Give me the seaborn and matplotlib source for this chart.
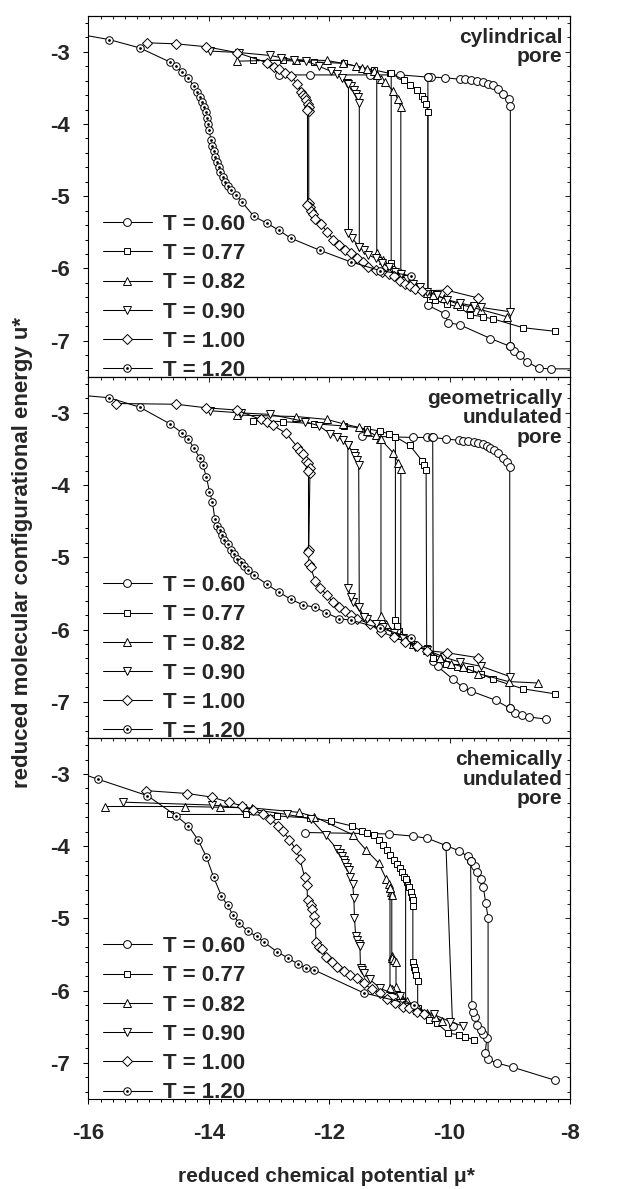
import matplotlib

matplotlib.use('Agg')
import matplotlib.pyplot as plt
from matplotlib.lines import Line2D
from matplotlib.ticker import MultipleLocator
import pandas as pd
import seaborn as sns

# --- data: (mu*, u*) pairs, one list per branch ---
# cylindrical pore
cyl_060_ads = [(-12.84, -3.32), (-12.32, -3.32), (-11.32, -3.32), (-10.82, -3.32), (-10.36, -3.35), (-10.31, -3.35),
               (-10.07, -3.36), (-9.83, -3.38), (-9.74, -3.38), (-9.65, -3.39), (-9.55, -3.40), (-9.45, -3.42),
               (-9.36, -3.44), (-9.27, -3.46), (-9.19, -3.51), (-9.11, -3.58), (-9.02, -3.66), (-8.99, -3.75),
               (-8.99, -7.08), (-8.93, -7.14), (-8.83, -7.20), (-8.72, -7.29), (-8.52, -7.38), (-8.32, -7.39),
               (-7.90, -7.39)]
cyl_060_des = [(-8.99, -7.08), (-9.32, -6.97), (-9.83, -6.78), (-10.03, -6.75), (-10.07, -6.63), (-10.36, -6.51),
               (-10.36, -3.35)]
cyl_077_ads = [(-13.26, -3.12), (-12.77, -3.12), (-12.26, -3.14), (-11.76, -3.16), (-11.26, -3.25), (-10.99, -3.30),
               (-10.75, -3.39), (-10.65, -3.46), (-10.54, -3.53), (-10.46, -3.61), (-10.43, -3.66), (-10.39, -3.72),
               (-10.36, -3.83), (-10.36, -6.34), (-10.33, -6.42), (-10.24, -6.44), (-10.05, -6.49), (-9.83, -6.54),
               (-9.66, -6.64), (-9.44, -6.67), (-9.27, -6.70), (-8.78, -6.82), (-8.25, -6.87)]
cyl_077_des = [(-10.60, -6.21), (-10.80, -6.07), (-10.97, -5.92), (-10.97, -3.30)]
cyl_082_ads = [(-13.54, -3.13), (-12.55, -3.11), (-12.04, -3.12), (-11.77, -3.16), (-11.55, -3.20), (-11.46, -3.22),
               (-11.37, -3.24), (-11.26, -3.26), (-11.21, -3.32), (-11.14, -3.37), (-11.07, -3.42), (-10.94, -3.54),
               (-10.86, -3.65), (-10.81, -3.77), (-10.81, -6.06), (-10.60, -6.21), (-10.38, -6.34), (-10.27, -6.37),
               (-10.10, -6.41), (-9.88, -6.49), (-9.66, -6.53), (-9.48, -6.57), (-9.04, -6.67)]
cyl_082_des = [(-10.99, -5.98), (-11.10, -5.88), (-11.21, -5.79), (-11.21, -3.32)]
cyl_090_ads = [(-13.98, -2.99), (-13.50, -3.01), (-12.99, -3.05), (-12.80, -3.08), (-12.59, -3.11), (-12.38, -3.13),
               (-12.17, -3.20), (-11.97, -3.27), (-11.87, -3.31), (-11.79, -3.36), (-11.70, -3.43), (-11.64, -3.48),
               (-11.59, -3.53), (-11.55, -3.58), (-11.52, -3.63), (-11.50, -3.71), (-11.50, -5.70), (-11.43, -5.75),
               (-11.35, -5.81), (-11.23, -5.86), (-11.12, -5.93), (-11.01, -5.98), (-10.90, -6.05), (-10.81, -6.08),
               (-10.71, -6.14), (-10.60, -6.21), (-10.49, -6.26), (-10.38, -6.32), (-10.21, -6.37), (-10.05, -6.43),
               (-9.83, -6.48), (-9.60, -6.52), (-9.47, -6.54), (-8.99, -6.60)]
cyl_090_des = [(-11.50, -5.70), (-11.62, -5.58), (-11.68, -5.51), (-11.68, -3.45)]
cyl_100_ads = [(-15.03, -2.875), (-14.54, -2.89), (-14.04, -2.93), (-13.54, -3.01), (-13.03, -3.15), (-12.92, -3.21),
               (-12.83, -3.24), (-12.74, -3.29), (-12.64, -3.34), (-12.53, -3.44), (-12.47, -3.55), (-12.43, -3.60),
               (-12.41, -3.63), (-12.38, -3.67), (-12.36, -3.72), (-12.34, -3.76), (-12.34, -3.82), (-12.34, -5.10),
               (-12.32, -5.15), (-12.30, -5.20), (-12.27, -5.25), (-12.23, -5.31), (-12.13, -5.39), (-12.04, -5.49),
               (-11.93, -5.60), (-11.83, -5.68), (-11.73, -5.74), (-11.64, -5.79), (-11.54, -5.86), (-11.44, -5.91),
               (-11.35, -5.98), (-11.23, -6.02), (-11.12, -6.05), (-11.01, -6.08), (-10.93, -6.11), (-10.83, -6.18),
               (-10.74, -6.21), (-10.65, -6.24), (-10.57, -6.28), (-10.46, -6.31), (-10.05, -6.30), (-9.52, -6.41)]
cyl_100_des = [(-12.37, -5.12), (-12.37, -3.80)]
cyl_120 = [(-16.20, -2.75), (-15.66, -2.83), (-15.15, -2.945), (-14.65, -3.14), (-14.55, -3.20), (-14.44, -3.28),
           (-14.34, -3.36), (-14.25, -3.48), (-14.19, -3.55), (-14.15, -3.62), (-14.11, -3.69), (-14.08, -3.76),
           (-14.05, -3.84), (-14.03, -3.92), (-14.01, -4.00), (-13.99, -4.08), (-13.97, -4.22), (-13.94, -4.30),
           (-13.92, -4.38), (-13.89, -4.45), (-13.86, -4.53), (-13.83, -4.59), (-13.81, -4.66), (-13.77, -4.73),
           (-13.73, -4.80), (-13.68, -4.86), (-13.64, -4.92), (-13.55, -4.98), (-13.45, -5.08), (-13.25, -5.28),
           (-13.04, -5.37), (-12.84, -5.47), (-12.64, -5.58), (-12.15, -5.75), (-11.64, -5.91), (-11.15, -6.03),
           (-10.64, -6.10)]

# geometrically undulated pore
geo_060_ads = [(-11.46, -3.32), (-10.61, -3.34), (-10.38, -3.34), (-10.30, -3.34), (-10.06, -3.36), (-9.85, -3.38),
               (-9.77, -3.39), (-9.69, -3.39), (-9.60, -3.40), (-9.52, -3.42), (-9.45, -3.43), (-9.38, -3.46),
               (-9.32, -3.48), (-9.26, -3.51), (-9.19, -3.55), (-9.12, -3.62), (-9.05, -3.68), (-9.00, -3.75),
               (-9.00, -7.09), (-8.91, -7.16), (-8.80, -7.18), (-8.68, -7.21), (-8.40, -7.24)]
geo_060_des = [(-9.00, -7.09), (-9.23, -6.98), (-9.65, -6.85), (-9.78, -6.80), (-9.94, -6.69), (-10.20, -6.51),
               (-10.27, -6.43), (-10.28, -3.34)]
geo_077_ads = [(-13.26, -3.11), (-12.77, -3.12), (-12.26, -3.15), (-11.76, -3.18), (-11.38, -3.22), (-11.16, -3.25),
               (-11.01, -3.29), (-10.90, -3.33), (-10.66, -3.45), (-10.46, -3.66), (-10.42, -3.72), (-10.39, -3.79),
               (-10.38, -6.26), (-10.28, -6.40), (-10.06, -6.47), (-9.87, -6.52), (-9.66, -6.55), (-9.47, -6.62),
               (-9.27, -6.69), (-8.78, -6.82), (-8.25, -6.89)]
geo_077_des = [(-10.60, -6.20), (-10.84, -6.02), (-10.87, -5.95), (-10.90, -5.87), (-10.90, -3.33)]
geo_082_ads = [(-13.54, -3.03), (-12.55, -3.05), (-12.04, -3.09), (-11.77, -3.15), (-11.51, -3.20), (-11.37, -3.25),
               (-11.23, -3.31), (-11.15, -3.36), (-10.94, -3.55), (-10.85, -3.69), (-10.81, -3.78), (-10.81, -6.08),
               (-10.60, -6.20), (-10.38, -6.28), (-10.16, -6.39), (-9.97, -6.47), (-9.77, -6.52), (-9.52, -6.61),
               (-9.02, -6.72), (-8.53, -6.74)]
geo_082_des = [(-10.93, -6.02), (-11.05, -5.92), (-11.14, -5.81), (-11.14, -3.36)]
geo_090_ads = [(-13.98, -2.97), (-13.47, -3.00), (-12.99, -3.02), (-12.40, -3.12), (-12.17, -3.18), (-11.98, -3.29),
               (-11.87, -3.33), (-11.77, -3.38), (-11.69, -3.45), (-11.59, -3.56), (-11.57, -3.60), (-11.54, -3.65),
               (-11.51, -3.72), (-11.50, -5.69), (-11.43, -5.82), (-11.37, -5.86), (-11.23, -5.92), (-11.10, -5.96),
               (-10.93, -6.05), (-10.77, -6.12), (-10.57, -6.24), (-10.38, -6.28), (-10.10, -6.38), (-9.83, -6.45),
               (-9.47, -6.51), (-9.00, -6.65)]
geo_090_des = [(-11.43, -5.82), (-11.60, -5.62), (-11.64, -5.55), (-11.69, -5.43), (-11.69, -3.45)]
geo_100_ads = [(-15.55, -2.87), (-14.54, -2.88), (-14.04, -2.93), (-13.54, -2.96), (-13.14, -3.09), (-13.03, -3.12),
               (-12.94, -3.17), (-12.72, -3.28), (-12.53, -3.47), (-12.48, -3.53), (-12.43, -3.57), (-12.38, -3.66),
               (-12.36, -3.70), (-12.32, -3.76), (-12.32, -3.83), (-12.34, -4.90), (-12.34, -5.09), (-12.31, -5.14),
               (-12.23, -5.33), (-12.15, -5.43), (-12.04, -5.52), (-11.94, -5.62), (-11.83, -5.69), (-11.73, -5.74),
               (-11.64, -5.80), (-11.54, -5.85), (-11.33, -5.92), (-11.14, -6.03), (-10.93, -6.10), (-10.74, -6.17),
               (-10.54, -6.23), (-10.38, -6.29), (-10.05, -6.32), (-9.52, -6.39)]
geo_100_des = [(-12.35, -4.92), (-12.35, -3.80)]
geo_120 = [(-16.20, -2.75), (-15.66, -2.79), (-15.15, -2.92), (-14.65, -3.15), (-14.44, -3.28), (-14.34, -3.36),
           (-14.25, -3.49), (-14.15, -3.62), (-14.10, -3.72), (-14.04, -3.89), (-13.99, -4.09), (-13.94, -4.24),
           (-13.90, -4.47), (-13.86, -4.56), (-13.82, -4.62), (-13.78, -4.69), (-13.74, -4.76), (-13.69, -4.82),
           (-13.64, -4.90), (-13.58, -4.96), (-13.53, -5.02), (-13.47, -5.06), (-13.41, -5.12), (-13.35, -5.17),
           (-13.25, -5.25), (-13.04, -5.37), (-12.84, -5.48), (-12.64, -5.58), (-12.43, -5.66), (-12.24, -5.69),
           (-12.05, -5.77), (-11.83, -5.85), (-11.64, -5.87), (-11.15, -5.98), (-10.64, -6.11)]

# chemically undulated pore
chem_060_ads = [(-12.41, -3.81), (-11.01, -3.83), (-10.61, -3.86), (-10.37, -3.89), (-10.06, -3.99), (-9.85, -4.06),
                (-9.70, -4.14), (-9.65, -4.20), (-9.58, -4.28), (-9.54, -4.36), (-9.48, -4.46), (-9.44, -4.56),
                (-9.40, -4.78), (-9.36, -4.99), (-9.36, -6.95), (-9.22, -7.00), (-8.95, -7.06), (-8.25, -7.24)]
chem_060_des = [(-9.41, -6.87), (-9.38, -6.66), (-9.44, -6.60), (-9.48, -6.54), (-9.54, -6.47), (-9.58, -6.36),
                (-9.61, -6.30), (-9.63, -6.20), (-9.65, -4.20)]
chem_060_des2 = [(-9.95, -6.49), (-10.06, -3.99)]
chem_077_ads = [(-14.65, -3.56), (-13.38, -3.56), (-12.87, -3.58), (-12.32, -3.61), (-11.97, -3.65), (-11.62, -3.72),
                (-11.46, -3.79), (-11.37, -3.82), (-11.26, -3.85), (-11.18, -3.91), (-11.11, -3.98), (-11.04, -4.05),
                (-10.99, -4.12), (-10.93, -4.19), (-10.88, -4.24), (-10.83, -4.30), (-10.79, -4.36), (-10.75, -4.42),
                (-10.71, -4.49), (-10.67, -4.56), (-10.64, -4.63), (-10.63, -4.70), (-10.61, -4.75), (-10.61, -4.83),
                (-10.61, -5.60), (-10.59, -5.67), (-10.57, -5.72), (-10.55, -5.78), (-10.53, -5.86), (-10.53, -6.24),
                (-10.35, -6.40), (-10.21, -6.45), (-10.02, -6.59), (-9.85, -6.61), (-9.74, -6.64), (-9.60, -6.68)]
chem_077_des = [(-10.35, -6.40), (-10.55, -6.28), (-10.73, -6.19), (-10.73, -4.46)]
chem_082_ads = [(-15.72, -3.45), (-14.40, -3.45), (-13.82, -3.46), (-13.28, -3.47), (-12.51, -3.53), (-12.25, -3.59),
                (-11.61, -3.84), (-11.39, -4.05), (-11.18, -4.23), (-11.05, -4.46), (-11.01, -4.52), (-10.99, -4.58),
                (-10.97, -4.63), (-10.96, -4.67), (-10.96, -5.52), (-10.95, -5.55), (-10.93, -5.57), (-10.89, -5.61),
                (-10.89, -5.95), (-10.82, -6.06), (-10.70, -6.14), (-10.52, -6.24), (-10.38, -6.31), (-10.24, -6.36),
                (-10.12, -6.42)]
chem_082_des = [(-10.82, -6.06), (-10.95, -5.98), (-10.99, -5.96), (-10.99, -4.58)]
chem_090 = [(-15.42, -3.39), (-13.94, -3.43), (-13.45, -3.47), (-12.70, -3.56), (-12.31, -3.62), (-12.06, -3.85),
            (-11.87, -4.04), (-11.82, -4.09), (-11.78, -4.14), (-11.76, -4.19), (-11.73, -4.23), (-11.70, -4.29),
            (-11.67, -4.33), (-11.65, -4.42), (-11.61, -4.53), (-11.59, -4.72), (-11.58, -5.00), (-11.56, -5.24),
            (-11.53, -5.30), (-11.51, -5.35), (-11.49, -5.38), (-11.48, -5.69), (-11.46, -5.72), (-11.43, -5.76),
            (-11.33, -5.84), (-11.15, -5.97), (-10.82, -6.08), (-10.60, -6.22), (-10.26, -6.33), (-9.99, -6.43),
            (-9.78, -6.49)]
chem_100 = [(-15.05, -3.23), (-14.36, -3.27), (-13.95, -3.32), (-13.67, -3.39), (-13.45, -3.44), (-13.26, -3.50),
            (-13.10, -3.56), (-12.98, -3.62), (-12.85, -3.72), (-12.77, -3.79), (-12.66, -3.91), (-12.56, -4.04),
            (-12.49, -4.17), (-12.41, -4.42), (-12.37, -4.54), (-12.36, -4.74), (-12.31, -4.81), (-12.29, -4.87),
            (-12.26, -4.97), (-12.23, -5.06), (-12.22, -5.32), (-12.17, -5.39), (-12.12, -5.43), (-12.05, -5.53),
            (-11.95, -5.60), (-11.87, -5.67), (-11.76, -5.73), (-11.65, -5.78), (-11.54, -5.83), (-11.43, -5.90),
            (-11.29, -5.98), (-11.15, -6.03), (-11.04, -6.12), (-10.90, -6.17), (-10.77, -6.22), (-10.68, -6.24),
            (-10.54, -6.29), (-10.43, -6.32)]
chem_120 = [(-16.20, -2.97), (-15.85, -3.07), (-15.02, -3.30), (-14.54, -3.58), (-14.34, -3.72), (-14.18, -3.91),
            (-14.04, -4.15), (-13.92, -4.43), (-13.79, -4.69), (-13.69, -4.82), (-13.60, -4.95), (-13.50, -5.06),
            (-13.35, -5.18), (-13.20, -5.25), (-13.08, -5.33), (-12.87, -5.46), (-12.68, -5.55), (-12.52, -5.63),
            (-12.38, -5.69), (-12.26, -5.71), (-11.43, -6.03), (-10.59, -6.20)]

temps = ['T = 0.60', 'T = 0.77', 'T = 0.82', 'T = 0.90', 'T = 1.00', 'T = 1.20']
panel_labels = ['cylindrical\npore', 'geometrically\nundulated\npore', 'chemically\nundulated\npore']
x_label = 'reduced chemical potential \u03bc*'
y_label = 'reduced molecular configurational energy u*'

series = [
    (0, 'T = 0.60', 'ads', cyl_060_ads), (0, 'T = 0.60', 'des', cyl_060_des),
    (0, 'T = 0.77', 'ads', cyl_077_ads), (0, 'T = 0.77', 'des', cyl_077_des),
    (0, 'T = 0.82', 'ads', cyl_082_ads), (0, 'T = 0.82', 'des', cyl_082_des),
    (0, 'T = 0.90', 'ads', cyl_090_ads), (0, 'T = 0.90', 'des', cyl_090_des),
    (0, 'T = 1.00', 'ads', cyl_100_ads), (0, 'T = 1.00', 'des', cyl_100_des),
    (0, 'T = 1.20', 'ads', cyl_120),
    (1, 'T = 0.60', 'ads', geo_060_ads), (1, 'T = 0.60', 'des', geo_060_des),
    (1, 'T = 0.77', 'ads', geo_077_ads), (1, 'T = 0.77', 'des', geo_077_des),
    (1, 'T = 0.82', 'ads', geo_082_ads), (1, 'T = 0.82', 'des', geo_082_des),
    (1, 'T = 0.90', 'ads', geo_090_ads), (1, 'T = 0.90', 'des', geo_090_des),
    (1, 'T = 1.00', 'ads', geo_100_ads), (1, 'T = 1.00', 'des', geo_100_des),
    (1, 'T = 1.20', 'ads', geo_120),
    (2, 'T = 0.60', 'ads', chem_060_ads), (2, 'T = 0.60', 'des', chem_060_des),
    (2, 'T = 0.60', 'des2', chem_060_des2),
    (2, 'T = 0.77', 'ads', chem_077_ads), (2, 'T = 0.77', 'des', chem_077_des),
    (2, 'T = 0.82', 'ads', chem_082_ads), (2, 'T = 0.82', 'des', chem_082_des),
    (2, 'T = 0.90', 'ads', chem_090),
    (2, 'T = 1.00', 'ads', chem_100),
    (2, 'T = 1.20', 'ads', chem_120),
]

rows = []
for panel, t, branch, pts in series:
    for mu, u in pts:
        rows.append({'panel': panel, 'T': t, 'branch': f'{t} {branch}', 'mu': mu, 'u': u})
df = pd.DataFrame(rows)

# marker style per temperature
markers = {'T = 0.60': 'o', 'T = 0.77': 's', 'T = 0.82': '^', 'T = 0.90': 'v', 'T = 1.00': 'D', 'T = 1.20': 'o'}
msizes = {'T = 0.60': 5.6, 'T = 0.77': 5.0, 'T = 0.82': 5.8, 'T = 0.90': 5.8, 'T = 1.00': 5.0, 'T = 1.20': 5.4}
LW = 0.75
MEW = 0.7

sns.set_style('ticks')
plt.rcParams['font.family'] = ['Liberation Sans', 'DejaVu Sans']
plt.rcParams['font.weight'] = 'bold'
plt.rcParams['axes.unicode_minus'] = False
plt.rcParams['axes.linewidth'] = 0.8

fig = plt.figure(figsize=(6.18, 11.89), dpi=100)
left, width = 0.1432, 0.779
h = 0.3037
bottoms = [0.0757 + 2 * h, 0.0757 + h, 0.0757]


def style_ticks(ax, show_xlabels):
    ax.set_xlim(-16, -8)
    ax.set_ylim(-7.5, -2.5)
    ax.xaxis.set_major_locator(MultipleLocator(2))
    ax.xaxis.set_minor_locator(MultipleLocator(0.2))
    ax.yaxis.set_major_locator(MultipleLocator(1))
    ax.yaxis.set_minor_locator(MultipleLocator(0.2))
    ax.tick_params(which='both', direction='out', width=0.75, color='black', top=False, right=False)
    ax.tick_params(which='major', length=3.4)
    ax.tick_params(which='minor', length=2.4)
    ax.tick_params(axis='y', labelsize=16, pad=10)
    ax.tick_params(axis='x', labelsize=16, pad=14, labelbottom=show_xlabels)
    # mirrored ticks on top/right point into the panel
    sx = ax.secondary_xaxis('top')
    sx.xaxis.set_major_locator(MultipleLocator(2))
    sx.xaxis.set_minor_locator(MultipleLocator(0.2))
    sx.tick_params(which='both', direction='in', width=0.75, labeltop=False)
    sx.tick_params(which='major', length=3.4)
    sx.tick_params(which='minor', length=2.4)
    sy = ax.secondary_yaxis('right')
    sy.yaxis.set_major_locator(MultipleLocator(1))
    sy.yaxis.set_minor_locator(MultipleLocator(0.2))
    sy.tick_params(which='both', direction='in', width=0.75, labelright=False)
    sy.tick_params(which='major', length=3.4)
    sy.tick_params(which='minor', length=2.4)
    for s in ax.spines.values():
        s.set_color('black')


for i, b in enumerate(bottoms):
    ax = fig.add_axes([left, b, width, h])
    sub = df[df['panel'] == i]
    for t in temps:
        st = sub[sub['T'] == t]
        sns.lineplot(data=st, x='mu', y='u', units='branch', estimator=None, sort=False,
                     color='black', lw=LW, marker=markers[t], ms=msizes[t], mfc='white',
                     mec='black', mew=MEW, ax=ax, legend=False)
        if t == 'T = 1.20':
            sns.scatterplot(data=st, x='mu', y='u', color='black', s=4, linewidth=0,
                            ax=ax, legend=False, zorder=5)
    style_ticks(ax, i == 2)
    ax.set_xlabel('')
    ax.set_ylabel('')
    ax.text(0.985, 0.967, panel_labels[i], transform=ax.transAxes, ha='right', va='top',
            fontsize=15, fontweight='bold', linespacing=1.05)

    handles = []
    for t in temps:
        hl = Line2D([], [], color='black', lw=LW, marker=markers[t], ms=msizes[t],
                    mfc='white', mec='black', mew=MEW)
        if t == 'T = 1.20':
            hl = (hl, Line2D([], [], ls='none', marker='o', ms=2.0, color='black', mew=0))
        handles.append(hl)
    ax.legend(handles, temps, loc='lower left', bbox_to_anchor=(0.03, -0.012), frameon=False,
              prop={'weight': 'bold', 'size': 16}, handlelength=2.2, handletextpad=0.5,
              labelspacing=0.37, borderpad=0, borderaxespad=0)

fig.text(0.528, 1 - 1176 / 1189, x_label, ha='center', va='center', fontsize=15, fontweight='bold')
fig.text(23 / 618, 1 - 552 / 1189, y_label, ha='center', va='center', rotation=90,
         fontsize=16, fontweight='bold')

fig.savefig('out.png', dpi=100)
